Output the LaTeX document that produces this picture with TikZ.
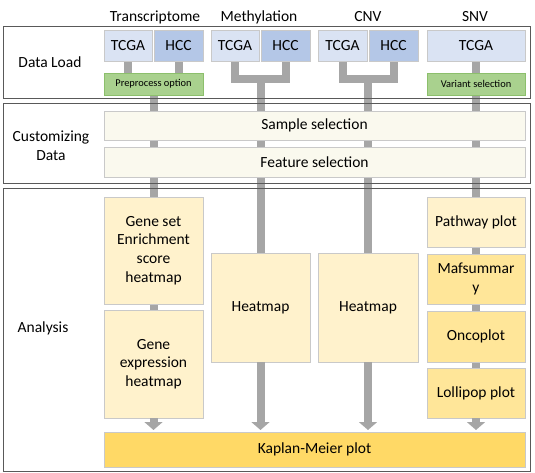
\documentclass[tikz,border=0pt]{standalone}
\usepackage{fontspec}
\setmainfont{Carlito}
\usetikzlibrary{arrows.meta,backgrounds,calc}
\definecolor{lblue}{HTML}{DAE3F3}
\definecolor{dblue}{HTML}{B4C7E7}
\definecolor{green1}{HTML}{A9D18E}
\definecolor{green2}{HTML}{8CBF6C}
\definecolor{cream}{HTML}{FAF9EE}
\definecolor{ly}{HTML}{FFF2CC}
\definecolor{my}{HTML}{FFE699}
\definecolor{dy}{HTML}{FFD966}
\definecolor{barc}{HTML}{A6A6A6}
\definecolor{bline}{HTML}{C9C9C9}
\definecolor{fline}{HTML}{595959}
\newcommand\fbig{\fontsize{15.5}{18.6}\selectfont}
\newcommand\fsmall{\fontsize{10.4}{12.5}\selectfont}
\begin{document}
\begin{tikzpicture}[x=1pt,y=-1pt,
  box/.style={draw=bline, line width=0.8pt, inner sep=0pt, outer sep=0pt, align=center, font=\fbig},
  bbox/.style={box, fill=lblue},
  hbox/.style={box, fill=dblue},
  gbox/.style={box, draw=green2, fill=green1, font=\fsmall},
  cbox/.style={box, fill=cream},
  lybox/.style={box, fill=ly},
  mybox/.style={box, fill=my},
  kmbox/.style={box, fill=dy},
  lab/.style={font=\fbig, align=center, inner sep=0pt},
  frame/.style={draw=fline, line width=1pt},
  bar/.style={draw=barc, line width=8pt, line join=miter},
  arr/.style={bar, -{Triangle[width=18pt,length=8pt]}, shorten >=2pt}]
\useasboundingbox (0,0) rectangle (535,473);
% frames
\draw[frame] (3,27) rectangle (530,99);
\draw[frame] (3,104) rectangle (530,184);
\draw[frame] (3,189) rectangle (530,471);
% headers and section labels
\node[lab] (hT) at (155,17) {Transcriptome};
\node[lab] (hMe) at (259,17) {Methylation};
\node[lab] (hCn) at (368,17) {CNV};
\node[lab] (hSn) at (475,17) {SNV};
\node[lab] (lDL) at (50,62) {Data Load};
\node[lab] (lCD) at (51,146) {Customizing\\Data};
\node[lab] (lAN) at (43,328) {Analysis};
% data load
\node[bbox, minimum width=48pt, minimum height=31pt] (tT) at (128,45.5) {TCGA};
\node[hbox, minimum width=49pt, minimum height=31pt] (cT) at (178.5,45.5) {HCC};
\node[bbox, minimum width=48pt, minimum height=31pt] (tM) at (235,45.5) {TCGA};
\node[hbox, minimum width=49pt, minimum height=31pt] (cM) at (285.5,45.5) {HCC};
\node[bbox, minimum width=49pt, minimum height=31pt] (tC) at (342.5,45.5) {TCGA};
\node[hbox, minimum width=49pt, minimum height=31pt] (cC) at (393.5,45.5) {HCC};
\node[bbox, minimum width=98pt, minimum height=31pt] (tS) at (476,45.5) {TCGA};
\node[gbox, minimum width=99pt, minimum height=22pt] (pre) at (153.5,84) {Preprocess option};
\node[gbox, minimum width=98pt, minimum height=22pt] (var) at (476,84) {Variant selection};
% customizing
\node[cbox, minimum width=421pt, minimum height=29pt] (samp) at (314.5,125.5) {Sample selection};
\node[cbox, minimum width=421pt, minimum height=30pt] (feat) at (314.5,162) {Feature selection};
% analysis
\node[lybox, minimum width=99pt, minimum height=107pt] (gs) at (153.5,250.5) {Gene set\\Enrichment\\score\\heatmap};
\node[lybox, minimum width=99pt, minimum height=108pt] (ge) at (153.5,364) {Gene\\expression\\heatmap};
\node[lybox, minimum width=99pt, minimum height=109pt] (hmM) at (260.5,307.5) {Heatmap};
\node[lybox, minimum width=100pt, minimum height=109pt] (hmC) at (368,307.5) {Heatmap};
\node[lybox, minimum width=98pt, minimum height=50pt] (pw) at (476,222) {Pathway plot};
\node[mybox, minimum width=98pt, minimum height=50pt] (maf) at (476,279) {Mafsummar\\y};
\node[mybox, minimum width=98pt, minimum height=51pt] (onc) at (476,336.5) {Oncoplot};
\node[mybox, minimum width=98pt, minimum height=50pt] (lol) at (476,393) {Lollipop plot};
\node[kmbox, minimum width=421pt, minimum height=35pt] (km) at (314.5,449.5) {Kaplan-Meier plot};
% fork points
\coordinate (fM) at (hmM.north |- 0,79);
\coordinate (fC) at (hmC.north |- 0,79);
\begin{scope}[on background layer]
  % transcriptome
  \draw[bar] (tT.south) -- (tT.south |- pre.north);
  \draw[bar] (cT.south) -- (cT.south |- pre.north);
  \draw[bar] (pre.south) -- (gs.north);
  \draw[bar] (gs.south) -- (ge.north);
  % methylation
  \draw[bar] (tM.south) |- (fM) -| (cM.south);
  \draw[bar] (fM) -- (hmM.north);
  % cnv
  \draw[bar] (tC.south) |- (fC) -| (cC.south);
  \draw[bar] (fC) -- (hmC.north);
  % snv
  \draw[bar] (tS.south) -- (var.north);
  \draw[bar] (var.south) -- (pw.north);
  \draw[bar] (pw.south) -- (maf.north);
  \draw[bar] (maf.south) -- (onc.north);
  \draw[bar] (onc.south) -- (lol.north);
\end{scope}
% arrows to Kaplan-Meier
\draw[arr] (ge.south) -- (ge.south |- km.north);
\draw[arr] (hmM.south) -- (hmM.south |- km.north);
\draw[arr] (hmC.south) -- (hmC.south |- km.north);
\draw[arr] (lol.south) -- (lol.south |- km.north);
\end{tikzpicture}
\end{document}
